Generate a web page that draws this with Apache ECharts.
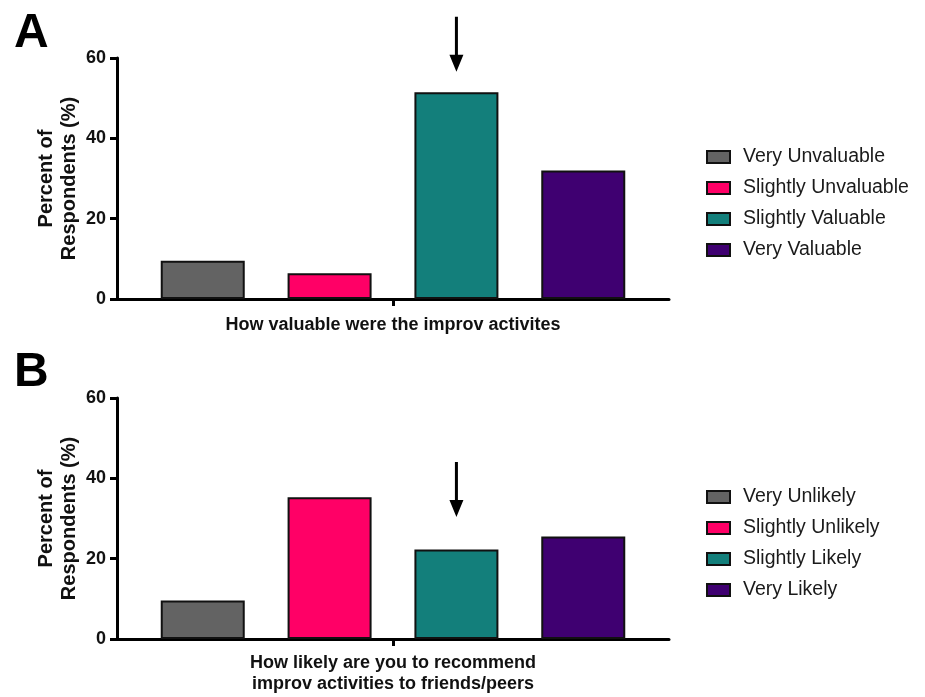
<!DOCTYPE html>
<html>
<head>
<meta charset="utf-8">
<script src="https://cdn.jsdelivr.net/npm/echarts@6/dist/echarts.min.js"></script>
<style>html,body{margin:0;padding:0;background:#fff}#c{width:925px;height:697px}</style>
</head>
<body>
<div id="c"></div>
<script>
const categoriesA = ['Very Unvaluable', 'Slightly Unvaluable', 'Slightly Valuable', 'Very Valuable'];
const valuesA = [9.5, 6.4, 51.5, 32.0];
const categoriesB = ['Very Unlikely', 'Slightly Unlikely', 'Slightly Likely', 'Very Likely'];
const valuesB = [9.6, 35.3, 22.3, 25.5];
const yTickValues = [0, 20, 40, 60];
const xTitleA = 'How valuable were the improv activites';
const xTitleB = 'How likely are you to recommend\nimprov activities to friends/peers';
const yTitle = 'Percent of\nRespondents (%)';
const colors = ['#636363', '#FF0066', '#137F7B', '#3F0071'];

const FONT = 'Arial, "Liberation Sans", sans-serif';
const arrowPath = 'path://M5.5,0 L8.5,0 L8.5,38 L14,38 L7,55 L0,38 L5.5,38 Z';

const chart = echarts.init(document.getElementById('c'), null, {renderer: 'canvas'});

function xAxis(gridIndex, name, gap) {
  return {
    type: 'category', gridIndex, data: [''],
    axisLine: {lineStyle: {color: '#000', width: 3}},
    axisTick: {show: true, alignWithLabel: true, length: 7, lineStyle: {color: '#000', width: 3}},
    axisLabel: {show: false},
    name, nameLocation: 'middle', nameGap: gap,
    nameTextStyle: {fontFamily: FONT, fontWeight: 'bold', fontSize: 18, color: '#111', lineHeight: 21}
  };
}
function yAxis(gridIndex) {
  return {
    type: 'value', gridIndex, min: yTickValues[0], max: yTickValues[yTickValues.length - 1], interval: 20,
    axisLine: {show: true, lineStyle: {color: '#000', width: 3}},
    axisTick: {show: true, length: 7, lineStyle: {color: '#000', width: 3}},
    axisLabel: {fontFamily: FONT, fontWeight: 'bold', fontSize: 18, color: '#111', margin: 11},
    splitLine: {show: false},
    name: yTitle, nameLocation: 'middle', nameGap: 36, nameRotate: 90, nameMoveOverlap: false,
    nameTextStyle: {fontFamily: FONT, fontWeight: 'bold', fontSize: 20, color: '#111', lineHeight: 23}
  };
}

const series = [];
function addSeries(cats, vals, idx, arrowOffset) {
  cats.forEach((name, i) => {
    const s = {
      type: 'bar', name, xAxisIndex: idx, yAxisIndex: idx,
      data: [vals[i]], barWidth: 84, barGap: '51%',
      itemStyle: {color: colors[i], borderColor: '#111', borderWidth: 2},
      emphasis: {disabled: true}
    };
    if (i === 2) {
      s.markPoint = {
        silent: true,
        data: [{coord: [0, vals[i]], symbol: arrowPath, symbolSize: [14, 55], symbolOffset: [0, arrowOffset],
          itemStyle: {color: '#000', borderWidth: 0}, label: {show: false}}]
      };
    }
    series.push(s);
  });
}
addSeries(categoriesA, valuesA, 0, -48);
addSeries(categoriesB, valuesB, 1, -60);

function legend(cats, top) {
  return {
    data: cats, orient: 'vertical', left: 701, top, icon: 'rect',
    itemWidth: 23, itemHeight: 12, itemGap: 11,
    textStyle: {fontFamily: FONT, fontSize: 19.5, color: '#1a1a1a', lineHeight: 18, padding: [0, 0, 0, 8]},
    selectedMode: false
  };
}

chart.setOption({
  animation: false,
  backgroundColor: '#fff',
  grid: [
    {left: 117, top: 58, width: 552, height: 241, outerBoundsMode: 'none', containLabel: false},
    {left: 117, top: 398, width: 552, height: 241, outerBoundsMode: 'none', containLabel: false}
  ],
  xAxis: [xAxis(0, xTitleA, 16), xAxis(1, xTitleB, 14)],
  yAxis: [yAxis(0), yAxis(1)],
  legend: [legend(categoriesA, 142), legend(categoriesB, 482)],
  graphic: [
    {type: 'text', left: 14, top: 10, style: {text: 'A', font: 'bold 48px ' + FONT, fill: '#000'}},
    {type: 'text', left: 14, top: 349, style: {text: 'B', font: 'bold 48px ' + FONT, fill: '#000'}}
  ],
  series
});
</script>
</body>
</html>
